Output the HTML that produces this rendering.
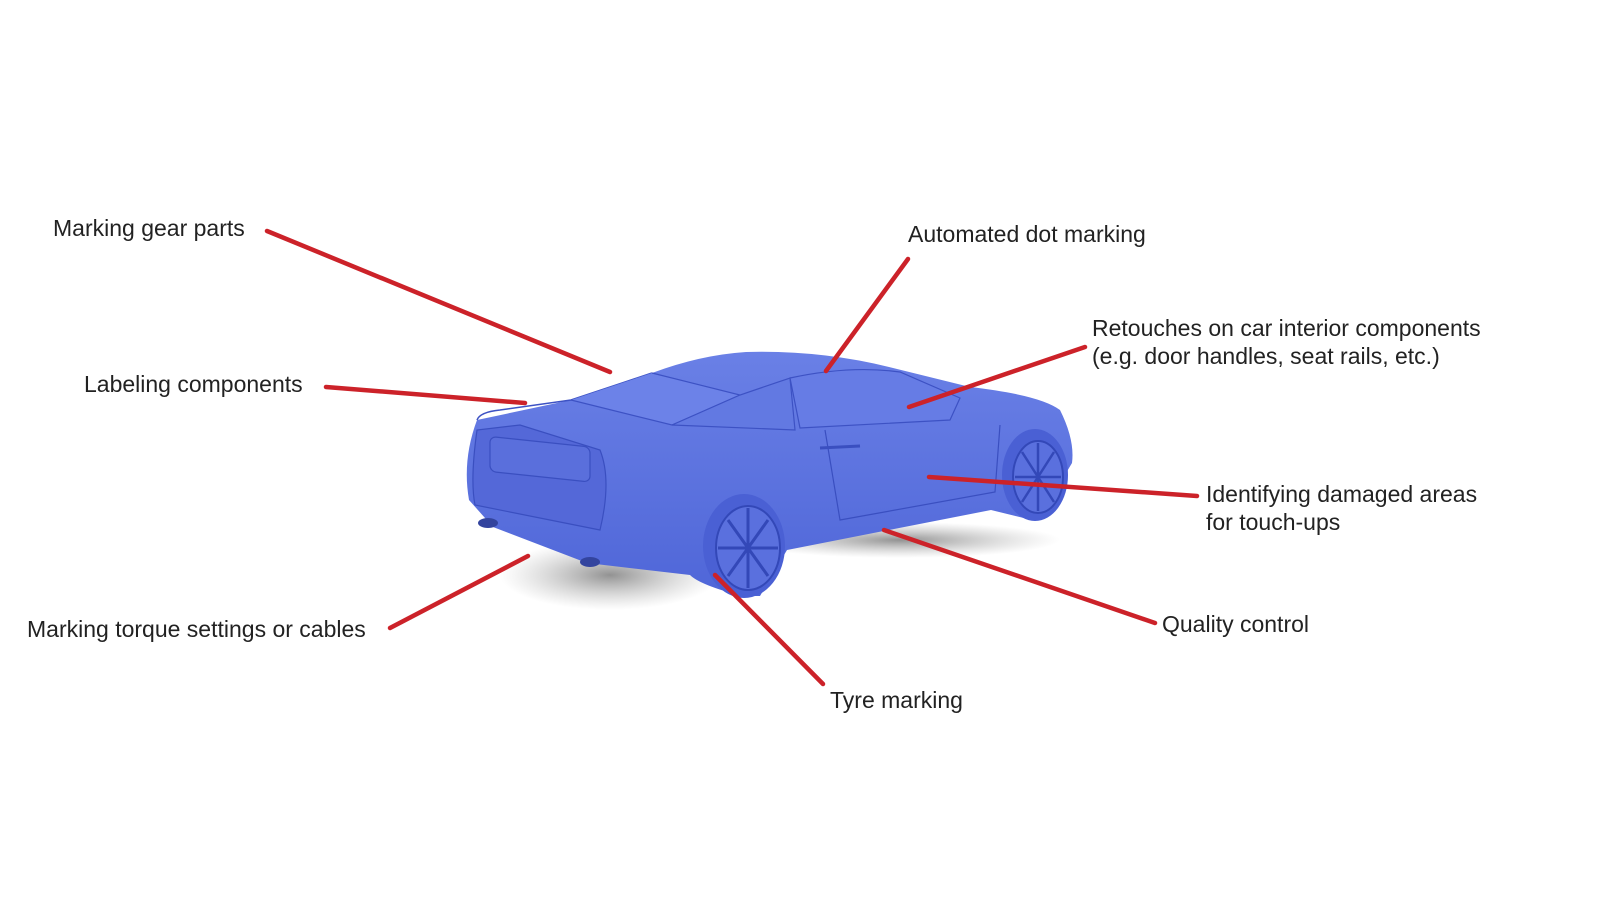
<!DOCTYPE html>
<html><head><style>
html,body{margin:0;padding:0;background:#fff;}
svg{display:block;}
text{font-family:"Liberation Sans",sans-serif;font-size:23px;fill:#222;dominant-baseline:central;}
</style></head><body>
<svg width="1600" height="900" viewBox="0 0 1600 900">
<defs>
<radialGradient id="sh" cx="0.5" cy="0.5" r="0.5"><stop offset="0" stop-color="#777" stop-opacity="0.8"/><stop offset="1" stop-color="#aaa" stop-opacity="0"/></radialGradient>
<linearGradient id="body" x1="0" y1="0" x2="0" y2="1"><stop offset="0" stop-color="#6a80e6"/><stop offset="1" stop-color="#4f66d8"/></linearGradient>
</defs>
<ellipse cx="610" cy="575" rx="110" ry="35" fill="url(#sh)"/>
<ellipse cx="900" cy="540" rx="160" ry="18" fill="url(#sh)"/>
<path d="M477,420 L571,400 L652,373 Q700,355 746,352 Q820,350 889,367 L970,387 Q1040,395 1060,410 Q1075,440 1072,463 L1050,500 L1032,520 L991,510 L787,550 L760,596 L742,596 Q700,585 690,575 L587,563 L493,527 L469,500 Q462,460 477,420 Z" fill="url(#body)"/>
<path d="M477,420 Q480,412 500,410 L571,400 L652,373" fill="none" stroke="#3d52c4" stroke-width="1.5"/>
<path d="M477,430 Q470,480 475,505 L600,530 Q612,480 600,450 L520,425 Z" fill="#5468d8" stroke="#3a4fc0" stroke-width="1.2"/>
<rect x="490" y="437" width="100" height="35" rx="6" fill="#5a6fdc" stroke="#3a4fc0" stroke-width="1.2" transform="skewY(6) translate(0,-52)"/>
<path d="M571,400 L672,425 L740,395 L652,373" fill="#6c82e8" stroke="#3d52c4" stroke-width="1.2"/>
<path d="M672,425 L795,430 L790,378 L740,395 Z" fill="#6279e2" stroke="#3d52c4" stroke-width="1.2"/>
<path d="M790,378 Q850,365 900,372 L960,398 L950,420 L800,428 Z" fill="#667ce5" stroke="#3d52c4" stroke-width="1.2"/>
<path d="M825,430 L840,520 L995,492 L1000,425" fill="none" stroke="#3a4fc0" stroke-width="1.2"/>
<path d="M820,448 L860,446" stroke="#3a4fc0" stroke-width="3"/>
<ellipse cx="744" cy="546" rx="41" ry="52" fill="#4a60d4"/>
<ellipse cx="748" cy="548" rx="32" ry="42" fill="#5a70de" stroke="#3348b8" stroke-width="2"/>
<path d="M748,508 L748,588 M718,548 L778,548 M728,520 L768,576 M768,520 L728,576" stroke="#3348b8" stroke-width="3"/>
<ellipse cx="1035" cy="475" rx="33" ry="46" fill="#4a60d4"/>
<ellipse cx="1038" cy="477" rx="25" ry="36" fill="#5a70de" stroke="#3348b8" stroke-width="2"/>
<path d="M1038,443 L1038,511 M1015,477 L1061,477 M1022,452 L1054,502 M1054,452 L1022,502" stroke="#3348b8" stroke-width="2.5"/>
<ellipse cx="488" cy="523" rx="10" ry="5" fill="#33449e"/>
<ellipse cx="590" cy="562" rx="10" ry="5" fill="#33449e"/>
<g stroke="#cc2229" stroke-width="4.5" stroke-linecap="round">
<line x1="267" y1="231" x2="610" y2="372"/>
<line x1="326" y1="387" x2="525" y2="403"/>
<line x1="390" y1="628" x2="528" y2="556"/>
<line x1="908" y1="259" x2="826" y2="371"/>
<line x1="1085" y1="347" x2="909" y2="407"/>
<line x1="929" y1="477" x2="1197" y2="496"/>
<line x1="884" y1="530" x2="1155" y2="623"/>
<line x1="715" y1="575" x2="823" y2="684"/>
</g>
<text x="53" y="228">Marking gear parts</text>
<text x="84" y="384">Labeling components</text>
<text x="27" y="629">Marking torque settings or cables</text>
<text x="908" y="234">Automated dot marking</text>
<text x="1092" y="328">Retouches on car interior components</text>
<text x="1092" y="356">(e.g. door handles, seat rails, etc.)</text>
<text x="1206" y="494">Identifying damaged areas</text>
<text x="1206" y="522">for touch-ups</text>
<text x="1162" y="624">Quality control</text>
<text x="830" y="700">Tyre marking</text>
</svg>
</body></html>
